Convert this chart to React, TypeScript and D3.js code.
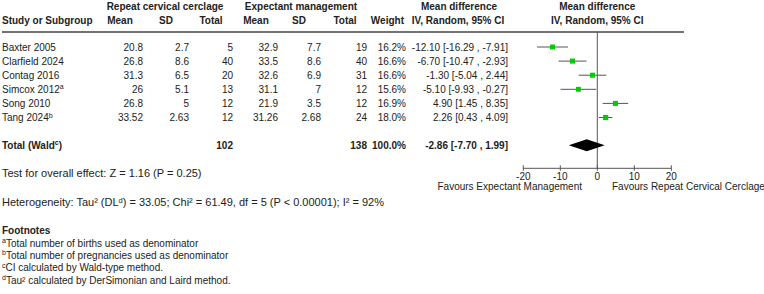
import React from 'react';
import * as d3 from 'd3';

const studies = ['Baxter 2005', 'Clarfield 2024', 'Contag 2016', 'Simcox 2012', 'Song 2010', 'Tang 2024'];
const studyNotes = ['', '', '', 'a', '', 'b'];
const cercMean = ['20.8', '26.8', '31.3', '26', '26.8', '33.52'];
const cercSD = ['2.7', '8.6', '6.5', '5.1', '5', '2.63'];
const cercN = [5, 40, 20, 13, 12, 12];
const expMean = ['32.9', '33.5', '32.6', '31.1', '21.9', '31.26'];
const expSD = ['7.7', '8.6', '6.9', '7', '3.5', '2.68'];
const expN = [19, 40, 31, 12, 12, 24];
const weights = [16.2, 16.6, 16.6, 15.6, 16.9, 18.0];
const md = [-12.1, -6.7, -1.3, -5.1, 4.9, 2.26];
const ciLow = [-16.29, -10.47, -5.04, -9.93, 1.45, 0.43];
const ciHigh = [-7.91, -2.93, 2.44, -0.27, 8.35, 4.09];

const pooled = { md: -2.86, lo: -7.7, hi: 1.99, nCerc: 102, nExp: 138, weight: 100.0 };
const axisTicks = [-20, -10, 0, 10, 20];

const footnotes = [
  ['a', 'Total number of births used as denominator'],
  ['b', 'Total number of pregnancies used as denominator'],
  ['c', 'CI calculated by Wald-type method.'],
  ['d', 'Tau\u00b2 calculated by DerSimonian and Laird method.'],
];

const W = 764;
const H = 294;
const FONT = '"Liberation Sans", Arial, sans-serif';
const TEXT = '#222';
const LINE = '#555';

const x = d3.scaleLinear().domain([-20, 20]).range([523.3, 671.3]);
const rowY = d3.scaleLinear().domain([0, 1]).range([47, 61.1]);
const sq = d3.scaleSqrt().domain([0, 18]).range([0, 5.2]);

// plain hyphen for negatives, as the table prints them
const f2 = (v: number) => v.toFixed(2);
const ciText = (m: number, l: number, h: number) => `${f2(m)} [${f2(l)} , ${f2(h)}]`;

const col = { cMean: 143, cSD: 189, cN: 233, eMean: 278, eSD: 321, eN: 367, w: 406, ci: 508 };

export default function App() {
  const axisY = 168.3;
  const totalY = 145.3;
  return (
    <svg
      width={W}
      height={H}
      style={{ position: 'absolute', left: 0, top: 0, background: '#fff' }}
      fontFamily={FONT}
      fontSize={10}
      fill={TEXT}
    >
      {/* column headers */}
      <g fontWeight="bold">
        <text x={165} y={9.5} textAnchor="middle">Repeat cervical cerclage</text>
        <text x={301} y={9.5} textAnchor="middle">Expectant management</text>
        <text x={459} y={9.5} textAnchor="middle">Mean difference</text>
        <text x={597.3} y={9.5} textAnchor="middle">Mean difference</text>
        <text x={2} y={23.5}>Study or Subgroup</text>
        <text x={120} y={23.5} textAnchor="middle">Mean</text>
        <text x={166} y={23.5} textAnchor="middle">SD</text>
        <text x={211} y={23.5} textAnchor="middle">Total</text>
        <text x={256} y={23.5} textAnchor="middle">Mean</text>
        <text x={299} y={23.5} textAnchor="middle">SD</text>
        <text x={345} y={23.5} textAnchor="middle">Total</text>
        <text x={404} y={23.5} textAnchor="end">Weight</text>
        <text x={458} y={23.5} textAnchor="middle">IV, Random, 95% CI</text>
        <text x={597.3} y={23.5} textAnchor="middle">IV, Random, 95% CI</text>
      </g>
      <line x1={2} x2={684} y1={32} y2={32} stroke="#444" strokeWidth={1.3} />

      {/* study rows */}
      {studies.map((s, i) => {
        const y = rowY(i) + 3.5;
        return (
          <g key={s}>
            <text x={2} y={y}>
              {s}
              {studyNotes[i] && (
                <tspan fontSize={7} dy={-3.5}>{studyNotes[i]}</tspan>
              )}
            </text>
            <text x={col.cMean} y={y} textAnchor="end">{cercMean[i]}</text>
            <text x={col.cSD} y={y} textAnchor="end">{cercSD[i]}</text>
            <text x={col.cN} y={y} textAnchor="end">{cercN[i]}</text>
            <text x={col.eMean} y={y} textAnchor="end">{expMean[i]}</text>
            <text x={col.eSD} y={y} textAnchor="end">{expSD[i]}</text>
            <text x={col.eN} y={y} textAnchor="end">{expN[i]}</text>
            <text x={col.w} y={y} textAnchor="end">{weights[i].toFixed(1)}%</text>
            <text x={col.ci} y={y} textAnchor="end">{ciText(md[i], ciLow[i], ciHigh[i])}</text>
          </g>
        );
      })}

      {/* pooled row */}
      <g fontWeight="bold">
        <text x={2} y={totalY + 3.5}>
          Total (Wald<tspan fontSize={7} dy={-3.5}>c</tspan>
          <tspan dy={3.5}>)</tspan>
        </text>
        <text x={col.cN} y={totalY + 3.5} textAnchor="end">{pooled.nCerc}</text>
        <text x={col.eN} y={totalY + 3.5} textAnchor="end">{pooled.nExp}</text>
        <text x={col.w} y={totalY + 3.5} textAnchor="end">{pooled.weight.toFixed(1)}%</text>
        <text x={col.ci} y={totalY + 3.5} textAnchor="end">{ciText(pooled.md, pooled.lo, pooled.hi)}</text>
      </g>

      {/* forest plot */}
      <line x1={x(0)} x2={x(0)} y1={32} y2={axisY} stroke={LINE} strokeWidth={1} />
      {studies.map((s, i) => {
        const y = rowY(i);
        const size = sq(weights[i]);
        return (
          <g key={`f-${s}`}>
            <line x1={x(ciLow[i])} x2={x(ciHigh[i])} y1={y} y2={y} stroke={LINE} strokeWidth={1} />
            <rect x={x(md[i]) - size / 2} y={y - size / 2} width={size} height={size} fill="#00cc00" />
          </g>
        );
      })}
      <path
        d={`M${x(pooled.lo)},${totalY} L${x(pooled.md)},${totalY - 6} L${x(pooled.hi)},${totalY} L${x(pooled.md)},${totalY + 6} Z`}
        fill="#000"
      />

      {/* x axis */}
      <line x1={x(-20)} x2={x(20)} y1={axisY} y2={axisY} stroke={LINE} strokeWidth={1} />
      {axisTicks.map((t) => (
        <g key={t}>
          <line x1={x(t)} x2={x(t)} y1={axisY - 3} y2={axisY + 2.5} stroke={LINE} strokeWidth={1} />
          <text x={x(t)} y={axisY + 11.5} textAnchor="middle">{t}</text>
        </g>
      ))}
      <text x={582} y={axisY + 21.5} textAnchor="end">Favours Expectant Management</text>
      <text x={612} y={axisY + 21.5}>Favours Repeat Cervical Cerclage</text>

      {/* statistics */}
      <g fontSize={11}>
        <text x={2} y={177}>Test for overall effect: Z = 1.16 (P = 0.25)</text>
        <text x={2} y={206}>
          Heterogeneity: Tau{'\u00b2'} (DL<tspan fontSize={7.5} dy={-3.5}>d</tspan>
          <tspan dy={3.5}>) = 33.05; Chi{'\u00b2'} = 61.49, df = 5 (P &lt; 0.00001); I{'\u00b2'} = 92%</tspan>
        </text>
      </g>

      {/* footnotes */}
      <text x={2} y={233.5} fontWeight="bold">Footnotes</text>
      {footnotes.map(([k, t], i) => (
        <text key={k} x={2} y={246.5 + i * 12.4}>
          <tspan fontSize={7} dy={-3.5}>{k}</tspan>
          <tspan dy={3.5}>{t}</tspan>
        </text>
      ))}
    </svg>
  );
}
